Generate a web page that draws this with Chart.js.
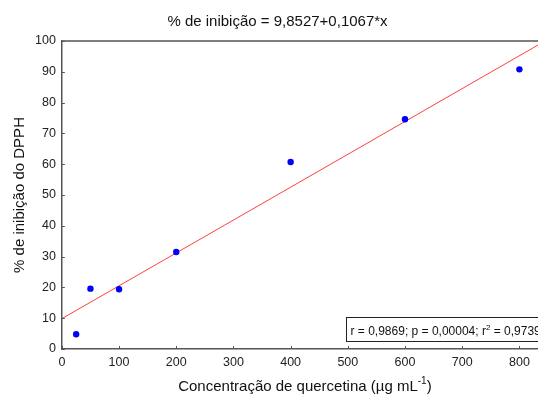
<!DOCTYPE html>
<html>
<head>
<meta charset="utf-8">
<script src="https://cdn.jsdelivr.net/npm/chart.js@4/dist/chart.umd.min.js"></script>
<style>
  html, body { margin: 0; padding: 0; background: #fff; overflow: hidden; }
  #wrap { width: 560px; height: 394px; }
</style>
</head>
<body>
<div id="wrap"><canvas id="c" width="560" height="394"></canvas></div>
<script>
// concentration (ug/mL) and % inhibition
const concentracao = [25, 50, 100, 200, 400, 600, 800];
const inibicao = [4.8, 19.6, 19.4, 31.5, 60.7, 74.6, 90.8];

// fitted line, ends
const retaX = [0, 850];
const retaY = [9.85, 100.55];

const xTicks = [0, 100, 200, 300, 400, 500, 600, 700, 800];
const yTicks = [0, 10, 20, 30, 40, 50, 60, 70, 80, 90, 100];

const titulo = '% de inibição = 9,8527+0,1067*x';
const statsParts = ['r = 0,9869; p = 0,00004; r', '2', ' = 0,9739'];

const FONT = 'Liberation Sans, Arial, sans-serif';

const extras = {
    id: 'extras',
    afterDraw(chart) {
        const ctx = chart.ctx;
        const area = chart.chartArea;
        const xs = chart.scales.x, ys = chart.scales.y;
        ctx.save();
        // inward tick marks
        ctx.strokeStyle = '#555';
        ctx.lineWidth = 1;
        ctx.beginPath();
        xTicks.forEach(v => {
            const px = Math.round(xs.getPixelForValue(v)) + 0.5;
            ctx.moveTo(px, area.bottom);
            ctx.lineTo(px, area.bottom - 3);
        });
        yTicks.forEach(v => {
            const py = Math.round(ys.getPixelForValue(v)) + 0.5;
            ctx.moveTo(area.left, py);
            ctx.lineTo(area.left + 3, py);
        });
        ctx.stroke();
        // top border of the plot box
        ctx.lineWidth = 1.5;
        ctx.beginPath();
        ctx.moveTo(area.left, area.top);
        ctx.lineTo(area.right, area.top);
        ctx.lineTo(area.right, area.bottom);
        ctx.stroke();

        // statistics box
        ctx.font = '12px ' + FONT;
        const supFont = '8px ' + FONT;
        const w0 = ctx.measureText(statsParts[0]).width;
        const w2 = ctx.measureText(statsParts[2]).width;
        ctx.font = supFont;
        const w1 = ctx.measureText(statsParts[1]).width;
        const boxX = 346.5, boxTop = Math.round(area.bottom - 32) + 0.5, boxH = 24;
        const boxW = w0 + w1 + w2 + 8;
        ctx.fillStyle = '#fff';
        ctx.fillRect(boxX, boxTop, boxW, boxH);
        ctx.strokeStyle = '#222';
        ctx.lineWidth = 1;
        ctx.strokeRect(boxX, boxTop, boxW, boxH);
        ctx.fillStyle = '#111';
        ctx.textBaseline = 'alphabetic';
        const base = boxTop + 17;
        ctx.font = '12px ' + FONT;
        ctx.fillText(statsParts[0], boxX + 4, base);
        ctx.font = supFont;
        ctx.fillText(statsParts[1], boxX + 4 + w0, base - 5);
        ctx.font = '12px ' + FONT;
        ctx.fillText(statsParts[2], boxX + 4 + w0 + w1, base);

        // x axis title with superscript
        const t0 = 'Concentração de quercetina (µg mL', t1 = '-1', t2 = ')';
        ctx.font = '15px ' + FONT;
        const a = ctx.measureText(t0).width, c = ctx.measureText(t2).width;
        ctx.font = '10px ' + FONT;
        const b = ctx.measureText(t1).width;
        const cx = (area.left + area.right) / 2;
        let sx = cx - (a + b + c) / 2;
        const by = 391;
        ctx.fillStyle = '#111';
        ctx.font = '15px ' + FONT;
        ctx.fillText(t0, sx, by);
        ctx.font = '10px ' + FONT;
        ctx.fillText(t1, sx + a, by - 7);
        ctx.font = '15px ' + FONT;
        ctx.fillText(t2, sx + a + b, by);
        ctx.restore();
    }
};

new Chart(document.getElementById('c').getContext('2d'), {
    type: 'scatter',
    data: {
        datasets: [
            {
                type: 'line',
                data: retaX.map((x, i) => ({ x: x, y: retaY[i] })),
                borderColor: 'rgba(255, 30, 30, 0.85)',
                borderWidth: 1,
                pointRadius: 0,
                fill: false,
                order: 2,
            },
            {
                data: concentracao.map((x, i) => ({ x: x, y: inibicao[i] })),
                backgroundColor: '#0000ff',
                borderColor: '#0000ff',
                pointRadius: 3.2,
                borderWidth: 0,
                order: 1,
            },
        ],
    },
    options: {
        responsive: false,
        animation: false,
        layout: { padding: { top: 1, right: 12, bottom: 18, left: 7 } },
        plugins: {
            legend: { display: false },
            tooltip: { enabled: false },
            title: {
                display: true,
                text: titulo,
                color: '#111',
                font: { family: FONT, size: 15, weight: 'normal' },
                padding: { top: 12, bottom: 10 },
            },
        },
        scales: {
            x: {
                type: 'linear',
                min: 0,
                max: 850,
                afterBuildTicks: (scale) => { scale.ticks = xTicks.map(v => ({ value: v })); },
                ticks: { color: '#222', font: { family: FONT, size: 12.5 }, padding: 6, maxRotation: 0 },
                grid: { display: false, drawTicks: false },
                border: { color: '#555', width: 1.5 },
            },
            y: {
                min: 0,
                max: 100,
                afterBuildTicks: (scale) => { scale.ticks = yTicks.map(v => ({ value: v })); },
                ticks: { color: '#222', font: { family: FONT, size: 12.5 }, padding: 6 },
                grid: { display: false, drawTicks: false },
                border: { color: '#555', width: 1.5 },
                title: {
                    display: true,
                    text: '% de inibição do DPPH',
                    color: '#111',
                    font: { family: FONT, size: 15 },
                    padding: { top: 4, bottom: 0 },
                },
            },
        },
    },
    plugins: [extras],
});
</script>
</body>
</html>
